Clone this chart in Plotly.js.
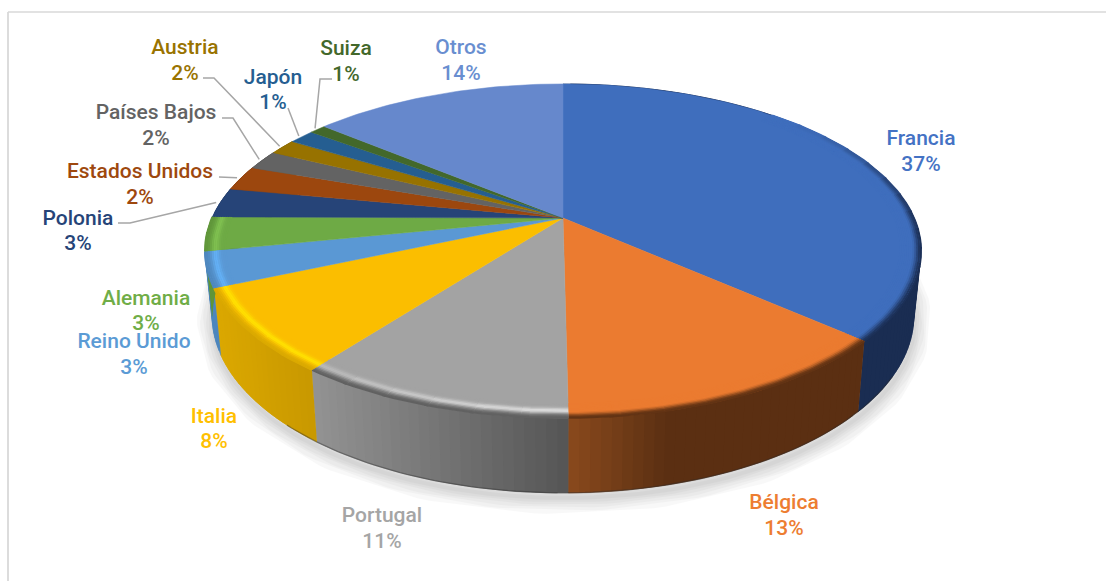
<!DOCTYPE html>
<html><head><meta charset="utf-8">
<script src="https://cdn.plot.ly/plotly-3.0.1.min.js"></script>
<style>html,body{margin:0;padding:0;background:#fff}#c{width:1106px;height:581px}</style></head>
<body><div id="c"></div>
<script>
// DATA
var categories = ["Francia","Bélgica","Portugal","Italia","Reino Unido","Alemania","Polonia","Estados Unidos","Países Bajos","Austria","Japón","Suiza","Otros"];
var values = [36.6,13.2,10.5,8.1,3.4,3.3,2.9,2.4,1.9,1.5,1.4,0.9,13.9];
var pctLabels = ["37%","13%","11%","8%","3%","3%","3%","2%","2%","2%","1%","1%","14%"];

// STYLE
var topColors = ["#3f6ebd","#eb7b30","#a3a3a3","#fbbe00","#5a98d4","#6eaa45","#264478","#9c470e","#636363","#977200","#255e91","#43682b","#6688cc"];
var labelColors = ["#4472c4","#ed7d31","#a5a5a5","#ffc000","#5b9bd5","#70ad47","#264478","#9e480e","#636363","#997300","#255e91","#43682b","#698ed0"];
var wallLeft = ["#1a2d52","#8a4a1d","#939393","#dba800","#4d86bd","#5f9539","#1d355e","#7c380b","#4e4e4e","#7a5c00","#1d4a73","#345122","#5470a8"];
var wallRight = ["#1a2d52","#5b2f12","#555555","#c89800","#4d86bd","#5f9539","#1d355e","#7c380b","#4e4e4e","#7a5c00","#1d4a73","#345122","#5470a8"];
var glowColors = ["#3f6ebd","#eb7b30","#e0e0e0","#ffe000","#63b0f5","#80c050","#264478","#9c470e","#636363","#977200","#255e91","#43682b","#6688cc"];
var edgeColors = ["#1a2d52","#5b2f12","#5e5e5e","#d8a800","#4d86bd","#5f9539","#1d355e","#7c380b","#4e4e4e","#7a5c00","#1d4a73","#345122","#5470a8"];
// label anchor points: [x, name y, percent y]
var labelPos = [[921,139.5,165.5],[784,503.5,529.5],[382,516.5,542.5],[214,417.5,442.5],[134,342.5,368.5],[146,299.5,324.5],[78,219.5,244.5],[140,172.5,198.5],[156,113.5,139.5],[185,48.5,74.5],[273,78.5,103.5],[346,49.5,75.5],[461,48.5,74.5]];
// leader line elbows (label side); the last point is attached to the slice rim
var leaders = {6:[[118,223],[130,223]],7:[[219,177]],8:[[222,118],[233,118]],9:[[203,78],[214,78]],10:[[288,108]],11:[[332,79],[320,79]]};

// Perspective disc geometry
var CX=563, CY=218, R=351, S=160.5, K=0.197, DEPTH=63, QX=0.98, QY=1.06;
function proj(r,t){var w=1+K*r*Math.cos(t);return [CX+R*r*Math.sin(t)/w, CY-S*r*Math.cos(t)/w];}
function low(t){var p=proj(1,t);return [CX+(p[0]-CX)*QX, CY+DEPTH+(p[1]-CY)*QY];}
function hex(c){return [parseInt(c.slice(1,3),16),parseInt(c.slice(3,5),16),parseInt(c.slice(5,7),16)];}
function toHex(a){return '#'+a.map(function(v){var h=Math.round(v).toString(16);return h.length<2?'0'+h:h;}).join('');}
function mix(a,b,f){var A=hex(a),B=hex(b);return toHex([0,1,2].map(function(i){return A[i]+(B[i]-A[i])*f;}));}

var total=values.reduce(function(a,b){return a+b;},0), starts=[], acc=0;
values.forEach(function(v){starts.push(acc/total*2*Math.PI);acc+=v;});
starts.push(2*Math.PI);
var traces=[];
function poly(pts,color){traces.push({type:'scatter',mode:'lines',x:pts.map(function(p){return p[0];}),y:pts.map(function(p){return p[1];}),fill:'toself',fillcolor:color,line:{color:color,width:0.5},hoverinfo:'skip',showlegend:false});}
function line(pts,color,width,op){traces.push({type:'scatter',mode:'lines',x:pts.map(function(p){return p[0];}),y:pts.map(function(p){return p[1];}),line:{color:color,width:width},opacity:op===undefined?1:op,hoverinfo:'skip',showlegend:false});}

// soft shadow under the front rim
var sh=[];for(var i=0;i<=120;i++){var t=1.45+i/120*(4.75-1.45);var p=low(t);sh.push([p[0]+1,p[1]+5]);}
[32,26,20,14,9,4].forEach(function(w){line(sh,'#000000',w,0.022);});

// walls, as shaded overlapping strips from each value's rim angles
for(var s=0;s<values.length;s++){
  var a=starts[s],b=starts[s+1];
  if(b<1.2||a>5.2)continue;
  var n=Math.max(2,Math.round((b-a)/0.025));
  var x0=proj(1,a)[0],x1=proj(1,b)[0],xl=Math.min(x0,x1),xr=Math.max(x0,x1);
  // paint so that each strip covers its neighbour's seam
  for(var j=0;j<n;j++){
    var t0=a+(b-a)*j/n,t1=Math.min(b,a+(b-a)*(j+2)/n);
    var xm=proj(1,a+(b-a)*(j+.5)/n)[0];
    var f=(xm-xl)/Math.max(1,(xr-xl));
    if(s==1)f=Math.min(1,f*3);
    poly([proj(1,t0),proj(1,t1),low(t1),low(t0)],mix(wallLeft[s],wallRight[s],f));
  }
}
// dark lip along bottom of wall
var lip=[];for(i=0;i<=100;i++){lip.push(low(2.1+i/100*1.8));}
line(lip,'#2a2a2a',1.3,0.4);

// top slices
for(s=0;s<values.length;s++){
  var pts=[[CX,CY]],m=Math.max(4,Math.round((starts[s+1]-starts[s])/0.02));
  for(j=0;j<=m;j++)pts.push(proj(1,starts[s]+(starts[s+1]-starts[s])*j/m));
  pts.push([CX,CY]);
  poly(pts,topColors[s]);
}
// soft bevel: thin rings near the rim, split into short arcs
function smooth(e0,e1,x){var u=Math.max(0,Math.min(1,(x-e0)/(e1-e0)));return u*u*(3-2*u);}
function strength(s,th){
  var a=starts[s],b=starts[s+1];
  if(s==2)return 0.3+0.7*(b-th)/(b-a);          // highlight fades toward the bottom centre
  return 1;
}
function edgeAmount(s,th){
  if(s==0)return smooth(0.75,1.75,th);            // France darkens gradually toward the side
  return 1;
}
for(s=0;s<6;s++){
  var a2=Math.max(starts[s],0.75),b2=Math.min(starts[s+1],4.75);
  if(b2<=a2)continue;
  var segs=Math.max(2,Math.round((b2-a2)/0.11));
  for(var k=0;k<segs;k++){
    var ta=a2+(b2-a2)*k/segs,tb=a2+(b2-a2)*(k+1)/segs,tm=(ta+tb)/2;
    var str=strength(s,tm),ea=edgeAmount(s,tm);
    for(var rr=0.945;rr<1.0001;rr+=0.005){
      var g=Math.exp(-Math.pow((rr-0.972)/0.01,2))*str;
      var col=mix(topColors[s],glowColors[s],g);
      col=mix(col,edgeColors[s],smooth(0.975,1.0,rr)*ea*0.95);
      var arc=[];for(var q=0;q<=4;q++)arc.push(proj(rr,ta+(Math.min(tb+0.01,b2)-ta)*q/4));
      line(arc,col,2);
    }
  }
}

// leader lines ending on each value's rim midpoint
Object.keys(leaders).forEach(function(k){
  k=+k;var mid=(starts[k]+starts[k+1])/2,e=proj(1.012,mid);
  line(leaders[k].concat([e]),'#a6a6a6',1.5);
});

// labels
var FONT='"Roboto","DejaVu Sans",sans-serif';
categories.forEach(function(c,i){
  traces.push({type:'scatter',mode:'text',x:[labelPos[i][0],labelPos[i][0]],y:[labelPos[i][1],labelPos[i][2]],text:[c,pctLabels[i]],textposition:'middle center',textfont:{family:FONT,size:21,color:labelColors[i],weight:500},hoverinfo:'skip',showlegend:false,cliponaxis:false});
});

var layout={width:1106,height:581,margin:{l:0,r:0,t:0,b:0},paper_bgcolor:'#fff',plot_bgcolor:'#fff',showlegend:false,
 xaxis:{range:[0,1106],visible:false,fixedrange:true},yaxis:{range:[581,0],visible:false,fixedrange:true},
 shapes:[{type:'line',xref:'paper',yref:'paper',x0:8/1106,x1:1,y0:1-12/581,y1:1-12/581,line:{color:'#d9d9d9',width:1.6}},
         {type:'line',xref:'paper',yref:'paper',x0:8/1106,x1:8/1106,y0:0,y1:1-12/581,line:{color:'#d9d9d9',width:1.8}}]};
Plotly.newPlot('c',traces,layout,{displayModeBar:false,staticPlot:true});
</script></body></html>
